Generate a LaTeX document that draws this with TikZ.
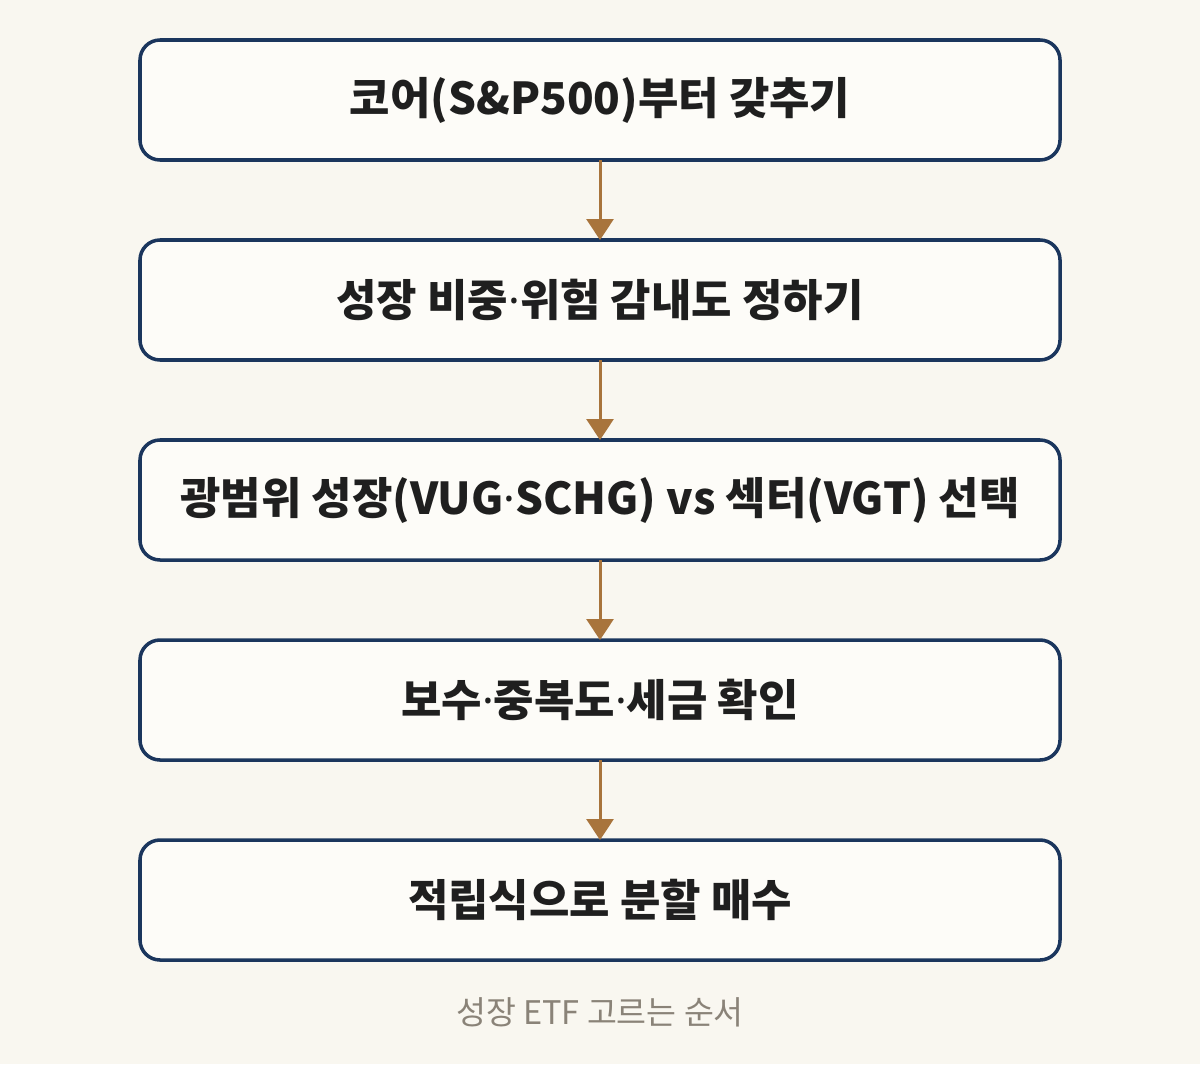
\documentclass[tikz,border=0pt]{standalone}
\usepackage{fontspec}
\setmainfont{Noto Sans CJK KR}
\newfontfamily\dotfont{Noto Sans}
\newcommand{\mdot}{{\dotfont\bfseries ·}}
\usepackage{xcolor}
\usepackage{tikz}
\usetikzlibrary{positioning,arrows.meta}
\definecolor{bgcream}{HTML}{F9F7F0}
\definecolor{boxfill}{HTML}{FDFCF8}
\definecolor{navyline}{HTML}{1B365D}
\definecolor{brownarrow}{HTML}{A8743C}
\definecolor{captiongray}{HTML}{8A8378}

\begin{document}
\begin{tikzpicture}[
        stepbox/.style={draw=navyline, fill=boxfill, line width=2pt, rounded corners=0.4cm,
            minimum width=18.4cm, minimum height=2.4cm, outer sep=0pt,
            font=\fontsize{25}{29}\selectfont\bfseries, text=black!88},
        flow/.style={draw=brownarrow, line width=1.7pt, -{Triangle[width=0.54cm,length=0.42cm]}},
        node distance=1.6cm]
        \fill[bgcream] (0,0) rectangle (24,-21.28);
        \useasboundingbox (0,0) rectangle (24,-21.28);
        \node[stepbox] (core) at (12,-2) {코어(S\&P500)부터 갖추기};
        \node[stepbox, below=of core] (weight) {성장 비중\mdot 위험 감내도 정하기};
        \node[stepbox, below=of weight] (choice) {광범위 성장(VUG\mdot SCHG) vs 섹터(VGT) 선택};
        \node[stepbox, below=of choice] (cost) {보수\mdot 중복도\mdot 세금 확인};
        \node[stepbox, below=of cost] (buy) {적립식으로 분할 매수};
        \draw[flow] (core) -- (weight);
        \draw[flow] (weight) -- (choice);
        \draw[flow] (choice) -- (cost);
        \draw[flow] (cost) -- (buy);
        \node[text=captiongray, font=\fontsize{18.5}{22}\selectfont] (caption) at (12,-20.24) {성장 ETF 고르는 순서};
    \end{tikzpicture}
\end{document}
